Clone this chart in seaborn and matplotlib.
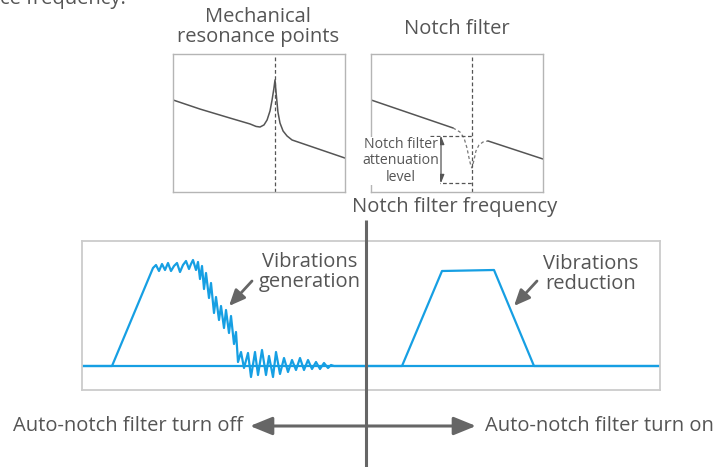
import numpy as np
import matplotlib
matplotlib.use("Agg")
import matplotlib.pyplot as plt
import seaborn as sns

sns.set_style("white")
plt.rcParams["font.family"] = ["Open Sans", "DejaVu Sans"]

# --- data -------------------------------------------------------------
# frequency response with a mechanical resonance (normalised freq / gain)
res_freq = [0.0, 0.157, 0.331, 0.448, 0.483, 0.506, 0.529, 0.547, 0.564, 0.576,
            0.587, 0.593, 0.599, 0.610, 0.622, 0.640, 0.663, 0.692, 1.0]
res_gain = [0.667, 0.601, 0.536, 0.493, 0.475, 0.471, 0.486, 0.522, 0.587, 0.667,
            0.754, 0.812, 0.725, 0.580, 0.500, 0.442, 0.406, 0.377, 0.246]
res_peak = 0.593

# notch filter response: solid parts and dashed dip
notch_left_f = [0.0, 0.477]
notch_left_g = [0.667, 0.464]
notch_dip_f = [0.477, 0.517, 0.541, 0.558, 0.570, 0.581, 0.587, 0.599, 0.610,
               0.628, 0.651, 0.680]
notch_dip_g = [0.464, 0.435, 0.391, 0.319, 0.246, 0.188, 0.174, 0.232, 0.297,
               0.341, 0.362, 0.370]
notch_right_f = [0.680, 1.0]
notch_right_g = [0.370, 0.239]
notch_freq = 0.587
atten_top = 0.406
atten_bottom = 0.065

# vibration signals (time, amplitude)
off_t = [0, 30, 71, 74, 77, 80, 83, 86, 89, 92, 95, 98, 101, 104, 107, 109, 111,
         114, 116, 118, 120, 122, 124, 127, 129, 132, 134, 137, 139, 142, 144,
         147, 149, 152, 154, 156, 159, 162, 166, 169, 173, 176, 180, 184, 187,
         191, 194, 198, 202, 206, 210, 214, 218, 222, 226, 230, 234, 238, 242,
         246, 249, 252, 578]
off_a = [0, 0, 0.98, 1.01, 0.95, 1.02, 0.96, 1.03, 0.95, 1.00, 1.03, 0.94, 1.01,
         1.05, 0.97, 1.02, 1.06, 0.96, 1.04, 0.87, 1.00, 0.77, 0.93, 0.68, 0.83,
         0.53, 0.69, 0.46, 0.60, 0.38, 0.56, 0.33, 0.50, 0.22, 0.34, 0.04, 0.14,
         -0.02, 0.13, -0.11, 0.14, -0.09, 0.16, -0.09, 0.10, -0.11, 0.14, -0.08,
         0.08, -0.06, 0.06, -0.04, 0.08, -0.04, 0.06, -0.03, 0.04, -0.03, 0.03,
         -0.02, 0.01, 0, 0]
on_t = [0, 320, 360, 412, 452, 578]
on_a = [0, 0, 0.95, 0.96, 0, 0]

TEXT = "#555555"
DARK = "#666666"
BLUE = "#169fe3"
W, H = 716, 467


def px_axes(fig, x0, y0, x1, y1):
    return fig.add_axes([x0 / W, 1 - y1 / H, (x1 - x0) / W, (y1 - y0) / H])


fig = plt.figure(figsize=(W / 100, H / 100), dpi=100)

# --- small frequency panels -----------------------------------------
ax1 = px_axes(fig, 173, 54, 345, 192)
ax2 = px_axes(fig, 371, 54, 543, 192)
for ax in (ax1, ax2):
    ax.set_xlim(0, 1)
    ax.set_ylim(0, 1)
    ax.set_xticks([])
    ax.set_yticks([])
    for s in ax.spines.values():
        s.set_color("#b5b5b5")
        s.set_linewidth(1)

sns.lineplot(x=res_freq, y=res_gain, ax=ax1, color="#555555", lw=1.1,
             sort=False, estimator=None)
ax1.axvline(res_peak, ymin=0, ymax=1, color="#555555", lw=0.9, ls=(0, (3, 2)),
            clip_on=False)

sns.lineplot(x=notch_left_f, y=notch_left_g, ax=ax2, color="#555555", lw=1.1,
             sort=False, estimator=None)
sns.lineplot(x=notch_dip_f, y=notch_dip_g, ax=ax2, color="#777777", lw=0.9,
             ls=(0, (2.5, 2)), sort=False, estimator=None)
sns.lineplot(x=notch_right_f, y=notch_right_g, ax=ax2, color="#555555", lw=1.1,
             sort=False, estimator=None)
ax2.axvline(notch_freq, color="#555555", lw=0.9, ls=(0, (3, 2)), clip_on=False)
ax2.hlines([atten_top, atten_bottom], 0.343, notch_freq, color="#555555",
           lw=0.9, ls=(0, (3, 2)))
ax2.annotate("", xy=(0.407, atten_bottom), xytext=(0.407, atten_top),
             arrowprops=dict(arrowstyle="<|-|>,head_length=0.5,head_width=0.2",
                             color="#555555", lw=0.9, shrinkA=0, shrinkB=0,
                             mutation_scale=10))

# --- lower vibration panel -------------------------------------------
ax3 = px_axes(fig, 82, 241, 660, 390)
ax3.set_xlim(0, 578)
ax3.set_ylim(-0.24, 1.25)
ax3.set_xticks([])
ax3.set_yticks([])
for s in ax3.spines.values():
    s.set_color("#cccccc")
    s.set_linewidth(1.3)
ax3.axhline(0, color="#cccccc", lw=1.3)
sns.lineplot(x=off_t, y=off_a, ax=ax3, color=BLUE, lw=1.6, sort=False,
             estimator=None)
sns.lineplot(x=on_t, y=on_a, ax=ax3, color=BLUE, lw=1.6, sort=False,
             estimator=None)

# --- overlay for text and arrows (pixel coordinates) -----------------
bg = fig.add_axes([0, 0, 1, 1], zorder=5)
bg.set_xlim(0, W)
bg.set_ylim(H, 0)
bg.axis("off")
bg.patch.set_alpha(0)

fs = 14.5
bg.text(0, 4, "ce frequency.", ha="left", va="baseline", fontsize=fs,
        color=TEXT)
bg.text(258, 27, "Mechanical\nresonance points", ha="center", va="center",
        fontsize=fs, color=TEXT, linespacing=1.05)
bg.text(457, 29, "Notch filter", ha="center", va="center", fontsize=fs,
        color=TEXT)
bg.text(401, 161, "Notch filter\nattenuation\nlevel", ha="center",
        va="center", fontsize=10.2, color=TEXT, linespacing=1.1,
        bbox=dict(facecolor="white", edgecolor="none", pad=0.5))
bg.text(455, 207, "Notch filter frequency", ha="center", va="center",
        fontsize=fs, color=TEXT)

bg.text(310, 272, "Vibrations\ngeneration", ha="center", va="center",
        fontsize=fs, color=TEXT, linespacing=1.05)
bg.text(591, 274, "Vibrations\nreduction", ha="center", va="center",
        fontsize=fs, color=TEXT, linespacing=1.05)
for tail, tip in [((252, 281), (229, 306)), ((537, 281), (514, 306))]:
    bg.annotate("", xy=tip, xytext=tail,
                arrowprops=dict(arrowstyle="-|>,head_length=0.8,head_width=0.35",
                                color=DARK, lw=2, mutation_scale=12,
                                shrinkA=0, shrinkB=0))

# center divider line
bg.plot([366, 366], [220, 467], color=DARK, lw=2.2, solid_capstyle="butt")

# bottom double arrow
bg.annotate("", xy=(250, 426), xytext=(476, 426),
            arrowprops=dict(arrowstyle="<|-|>,head_length=1.35,head_width=0.55",
                            color=DARK, lw=2.2, mutation_scale=10,
                            shrinkA=0, shrinkB=0))
bg.text(243, 426, "Auto-notch filter turn off", ha="right", va="center",
        fontsize=fs, color=TEXT)
bg.text(485, 426, "Auto-notch filter turn on", ha="left", va="center",
        fontsize=fs, color=TEXT)

fig.savefig("out.png", dpi=100)
